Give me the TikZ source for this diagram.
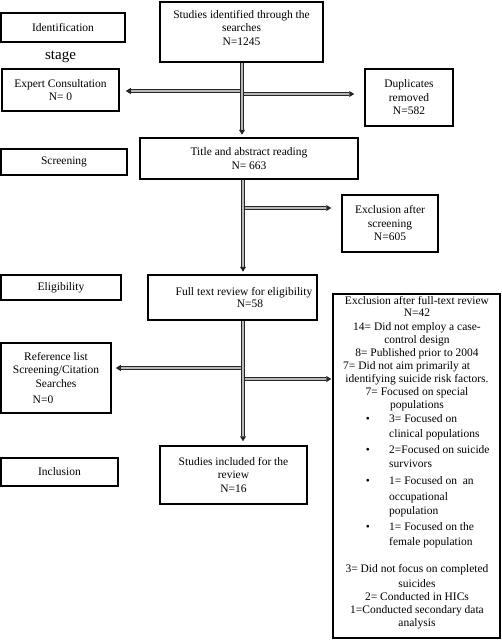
\documentclass[tikz,border=0pt]{standalone}
\usepackage{fontspec}
\setmainfont{Liberation Serif}
\usetikzlibrary{arrows.meta}
\begin{document}
\begin{tikzpicture}[x=1pt,y=-1pt,
  box/.style={draw, line width=1.5pt, inner sep=2pt, align=center, font=\fontsize{11.5}{13.5}\selectfont},
  txt/.style={inner sep=0pt, font=\fontsize{11.5}{13}\selectfont, anchor=base},
  arr/.style={draw=black!85, line width=0.9pt, double=gray!55, double distance=1.8pt, -{Triangle[length=5pt,width=6pt]}}]
\useasboundingbox (0,0) rectangle (502,640);
% boxes
\node[box, minimum width=124, minimum height=29] (ident) at (63,27.5) {Identification};
\node[font=\fontsize{15}{18}\selectfont] (stage) at (60.5,57) {stage};
\node[box, minimum width=163, minimum height=60] (studies) at (241.5,32) {Studies identified through the\\searches\\N=1245\\[-5pt]};
\node[box, minimum width=117, minimum height=42] (expert) at (60.5,90) {Expert Consultation\\N= 0};
\node[box, minimum width=88, minimum height=57] (dup) at (409,97.5) {Duplicates\\removed\\N=582};
\node[box, minimum width=126, minimum height=26] (screen) at (64,162) {Screening};
\node[box, minimum width=218, minimum height=41] (title) at (249,158.5) {Title and abstract reading\\N= 663};
\node[box, minimum width=96, minimum height=57] (exscr) at (390,223.5) {Exclusion after\\screening\\N=605};
\node[box, minimum width=120, minimum height=25] (elig) at (61,287.5) {Eligibility};
\node[box, minimum width=169, minimum height=45] (full) at (232.5,297.5) {};
\node[align=center, inner sep=0pt, font=\fontsize{11.5}{12}\selectfont] (fulltxt) at (244,297.5) {Full text review for eligibility\\\hspace*{12pt}N=58};
\node[box, minimum width=167, minimum height=344] (excl) at (416.5,466) {};
\node[box, minimum width=110, minimum height=70] (ref) at (56,378) {Reference list\\Screening/Citation\\Searches\\[2.5pt]\hspace*{-26pt}N=0};
\node[box, minimum width=147, minimum height=58] (incl) at (233.5,475) {Studies included for the\\review\\N=16};
\node[box, minimum width=117, minimum height=28] (inclusion) at (59.5,472) {Inclusion};
% exclusion text, centred lines
\foreach \y/\t [count=\n] in {304/Exclusion after full-text review, 316.5/N=42, 330/14= Did not employ a case-, 343/control design, 356/8= Published prior to 2004, 382/identifying suicide risk factors., 395/7= Focused on special, 408/populations, 572/3= Did not focus on completed, 587/suicides, 600/2= Conducted in HICs, 613/1=Conducted secondary data, 626/analysis}
  \node[txt] (exc\n) at (417,\y) {\t};
\node[txt, anchor=base west] (exl) at (343,369) {7= Did not aim primarily at};
% bullet items
\foreach \y/\t [count=\n] in {422/3= Focused on, 437/clinical populations, 453/2=Focused on suicide, 467/survivors, 484/1= Focused on\ \ an, 500/occupational, 514/population, 530/1= Focused on the, 545/female population}
  \node[txt, anchor=base west] (exb\n) at (389,\y) {\t};
\foreach \y [count=\n] in {422,453,484,530}
  \node[txt] (bul\n) at (368,\y) {\textbullet};
% connectors
\coordinate (t1) at (242,0);
\coordinate (t2) at (243,0);
\coordinate (b1) at (242,91);
\coordinate (b2) at (242,94);
\coordinate (b3) at (243,208);
\coordinate (b4) at (243,368);
\coordinate (b5) at (243,379);
\draw[arr, shorten >=6pt] (b1) -- (b1 -| expert.east);
\draw[arr, shorten >=10pt] (b2) -- (b2 -| dup.west);
\draw[arr, shorten >=10pt] (b3) -- (b3 -| exscr.west);
\draw[arr, shorten >=4pt] (b4) -- (b4 -| ref.east);
\draw[arr, shorten >=1pt] (b5) -- (b5 -| excl.west);
\draw[arr, shorten >=2.5pt] (studies.south -| t1) -- (title.north -| t1);
\draw[arr, shorten >=2.5pt] (title.south -| t2) -- (full.north -| t2);
\draw[arr, shorten >=4pt] (full.south -| t2) -- (incl.north -| t2);
\end{tikzpicture}
\end{document}
